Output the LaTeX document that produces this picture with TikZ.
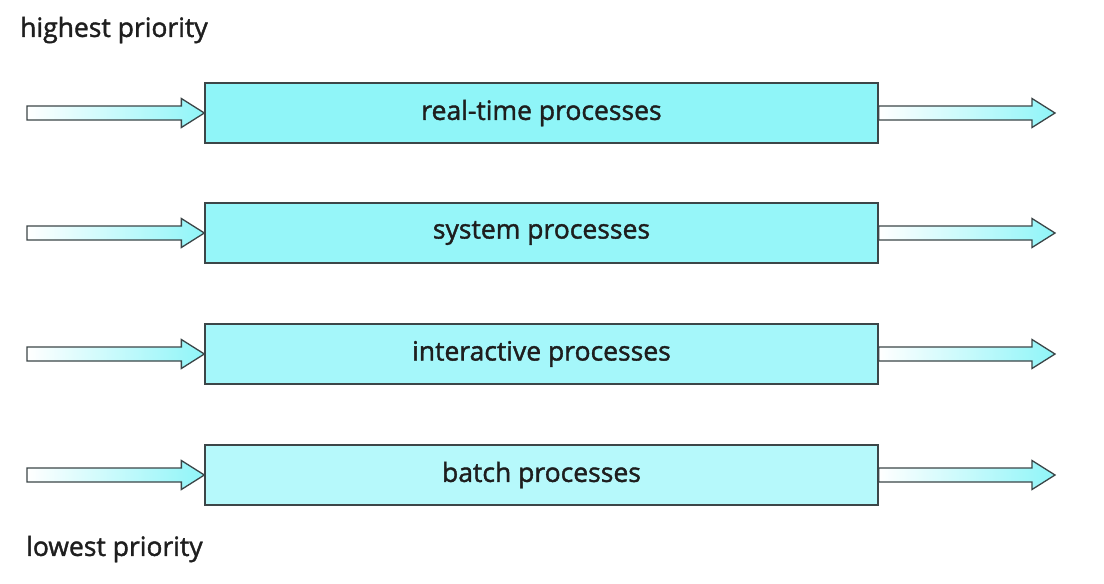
\documentclass[tikz,border=0pt]{standalone}
\usepackage{fontspec}
\setmainfont[FakeBold=1.5]{Open Sans}
\usetikzlibrary{calc}
\definecolor{cyanA}{RGB}{143,245,248}
\definecolor{cyanB}{RGB}{150,246,249}
\definecolor{cyanC}{RGB}{165,247,250}
\definecolor{cyanD}{RGB}{182,249,251}
\definecolor{edge}{RGB}{60,70,72}
\definecolor{txt}{RGB}{30,30,30}
\tikzset{
  procbox/.style={draw=edge, line width=1.3pt, minimum width=673pt, minimum height=60pt, inner sep=0pt, font=\fontsize{26.5}{29}\selectfont, text=txt},
  fatarrow/.style={draw=edge, line width=1.3pt, left color=white, right color=cyanA, line join=miter},
  lbl/.style={font=\fontsize{26.5}{29}\selectfont, text=txt, anchor=west, inner sep=0pt}
}
\newcommand{\fatarr}[2]{%
  \path[fatarrow] ($(#1)+(0,7)$) -- ($(#2)+(-23,7)$) -- ($(#2)+(-23,14.5)$) -- (#2) -- ($(#2)+(-23,-14.5)$) -- ($(#2)+(-23,-7)$) -- ($(#1)+(0,-7)$) -- cycle;}
\begin{document}
\begin{tikzpicture}[x=1pt,y=1pt]
\useasboundingbox[fill=white] (0,0) rectangle (1104,-584);
\node[lbl] (hi) at (20,-30) {highest priority};
\node[lbl] (lo) at (26,-549) {lowest priority};
\node[procbox, fill=cyanA] (b1) at (541.5,-113) {real-time processes};
\node[procbox, fill=cyanB] (b2) at (541.5,-233) {system processes};
\node[procbox, fill=cyanC] (b3) at (541.5,-354) {interactive processes};
\node[procbox, fill=cyanD] (b4) at (541.5,-475) {batch processes};
\foreach \i/\y in {1/-113,2/-233,3/-354,4/-475}{
  \coordinate (in\i) at (27,\y);
  \coordinate (out\i) at (1055,\y);
  \fatarr{in\i}{b\i.west}
  \fatarr{b\i.east}{out\i}
}
\end{tikzpicture}
\end{document}
